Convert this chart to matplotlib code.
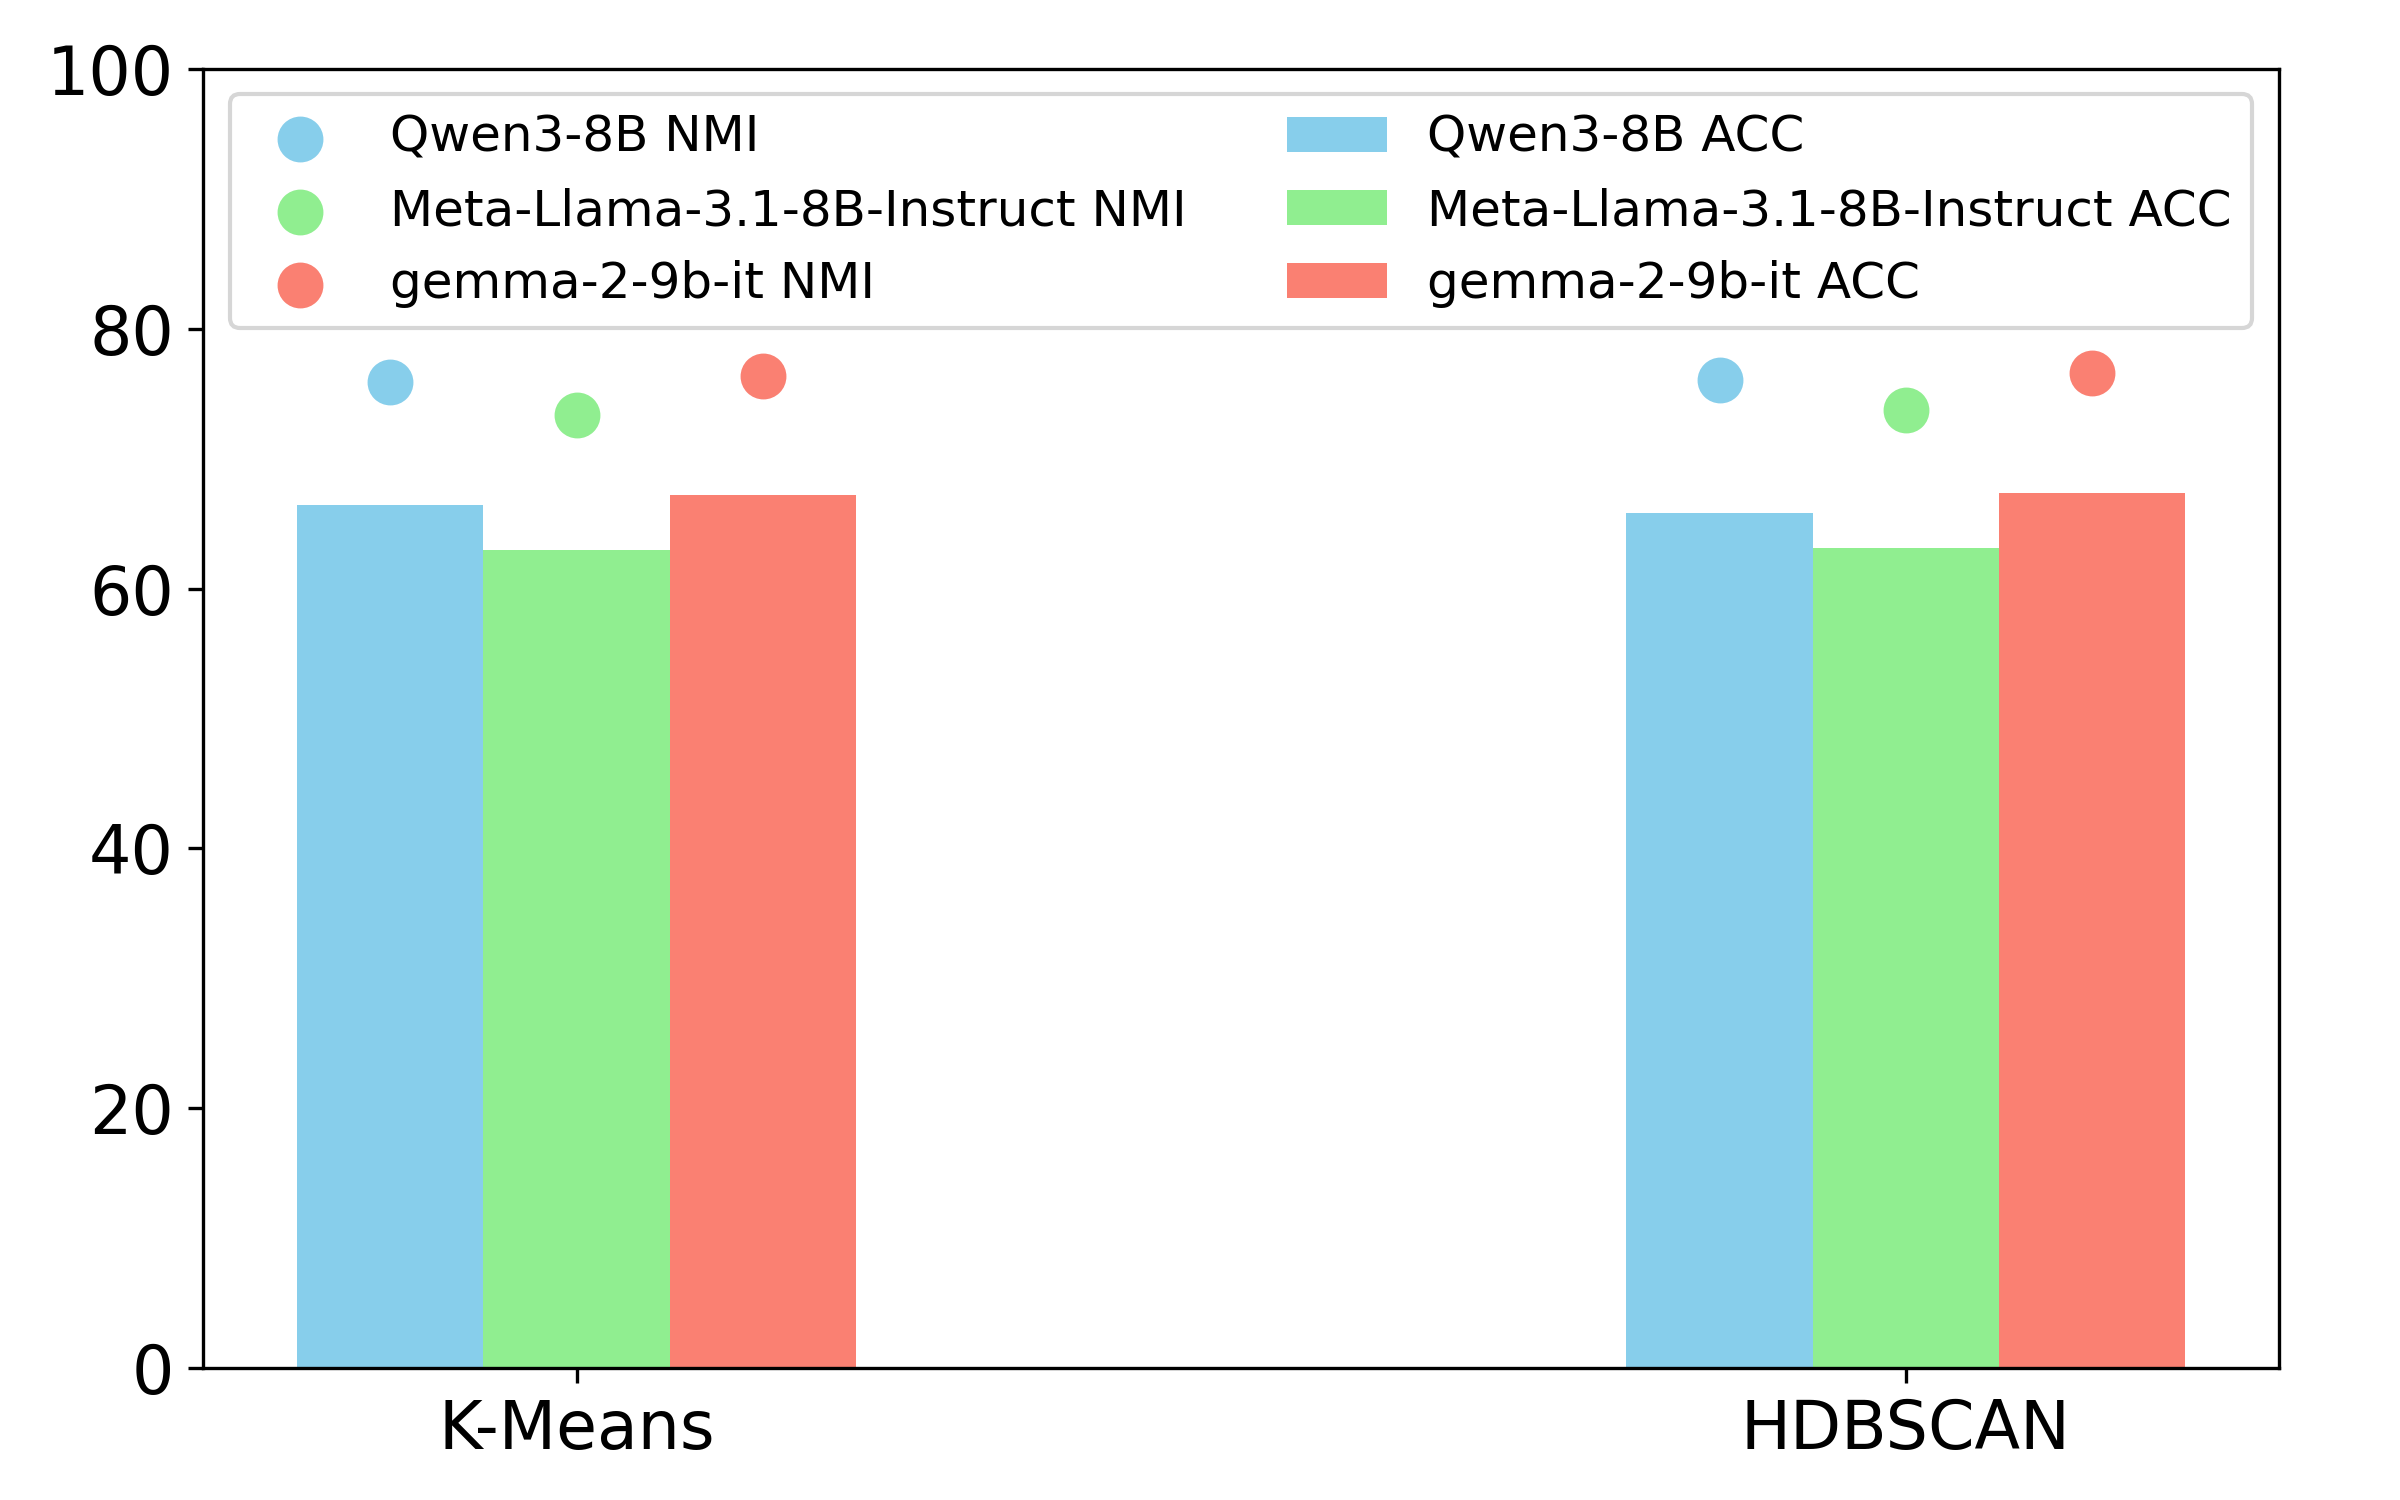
import numpy as np
import matplotlib
matplotlib.use('Agg')
import matplotlib.pyplot as plt

methods = ['K-Means', 'HDBSCAN']
models = ['Qwen3-8B', 'Meta-Llama-3.1-8B-Instruct', 'gemma-2-9b-it']
colors = ['skyblue', 'lightgreen', 'salmon']

# ACC (bars) and NMI (dots), one list per model: [K-Means, HDBSCAN]
acc_qwen = [66.4, 65.85]
acc_llama = [63.0, 63.1]
acc_gemma = [67.2, 67.35]
nmi_qwen = [75.9, 76.05]
nmi_llama = [73.4, 73.75]
nmi_gemma = [76.4, 76.6]

acc = [acc_qwen, acc_llama, acc_gemma]
nmi = [nmi_qwen, nmi_llama, nmi_gemma]

x = np.arange(len(methods))
width = 0.14

fig, ax = plt.subplots(figsize=(8, 5), dpi=300)
fig.subplots_adjust(left=0.0846, right=0.9496, top=0.954, bottom=0.088)

for i in range(3):
    pos = x + (i - 1) * width
    ax.bar(pos, acc[i], width, color=colors[i], label=models[i] + ' ACC')
for i in range(3):
    pos = x + (i - 1) * width
    ax.scatter(pos, nmi[i], s=100, color=colors[i], label=models[i] + ' NMI', zorder=3)

ax.set_ylim(0, 100)
ax.set_xticks(x)
ax.set_xticklabels(methods, fontsize=16)
ax.tick_params(axis='y', labelsize=16)

# scatter entries end up first, bars second
ax.legend(loc='upper center', ncol=2, fontsize=12)

plt.savefig('out.png', dpi=300)
